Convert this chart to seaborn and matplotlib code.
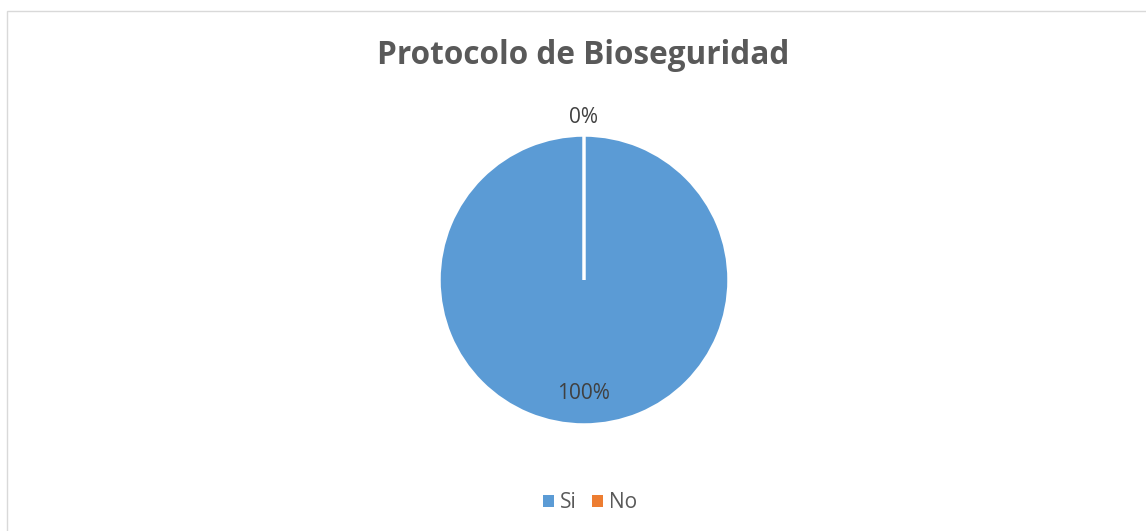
import matplotlib
matplotlib.use("Agg")
import matplotlib.pyplot as plt
from matplotlib.patches import Rectangle
import seaborn as sns

categories = ["Si", "No"]
values = [100, 0]
colors = ["#5B9BD5", "#ED7D31"]
title = "Protocolo de Bioseguridad"

sns.set_theme(style="white")
plt.rcParams['font.family'] = ['Open Sans', 'DejaVu Sans']

W, H = 1146, 531
fig = plt.figure(figsize=(W / 100, H / 100), dpi=100)
fig.patch.set_facecolor("white")

# chart border
fig.patches.append(Rectangle((7 / W, -0.5), 2.0, (H - 11) / H + 0.5,
                             transform=fig.transFigure, fill=False,
                             edgecolor="#D9D9D9", linewidth=1.0))

cx, cy, r = 584, 280, 145
ax = fig.add_axes([(cx - r) / W, (H - cy - r) / H, 2 * r / W, 2 * r / H])
wedges, texts, autotexts = ax.pie(
    values, colors=colors, startangle=90, counterclock=False,
    autopct=lambda p: f"{p:.0f}%", pctdistance=0.78,
    wedgeprops=dict(edgecolor="white", linewidth=2.5),
    textprops=dict(color="#404040", fontsize=15))
ax.set_xlim(-1, 1)
ax.set_ylim(-1, 1)
ax.set_aspect("equal")
ax.axis("off")

# move the 0% label outside the pie, above it
autotexts[1].set_position((0, 1.12))

fig.text(583.5 / W, 1 - 55 / H, title, ha="center", va="center",
         fontsize=22.7, fontweight="bold", color="#595959")

fig.legend(wedges, categories, loc="center", ncol=2,
           bbox_to_anchor=(590 / W, 1 - 503 / H), frameon=False,
           fontsize=15, handlelength=0.5, handleheight=0.5,
           columnspacing=0.75, handletextpad=0.3,
           labelcolor="#595959")
for h in fig.legends[0].legend_handles:
    h.set_edgecolor("none")

fig.savefig("out.png", dpi=100)
